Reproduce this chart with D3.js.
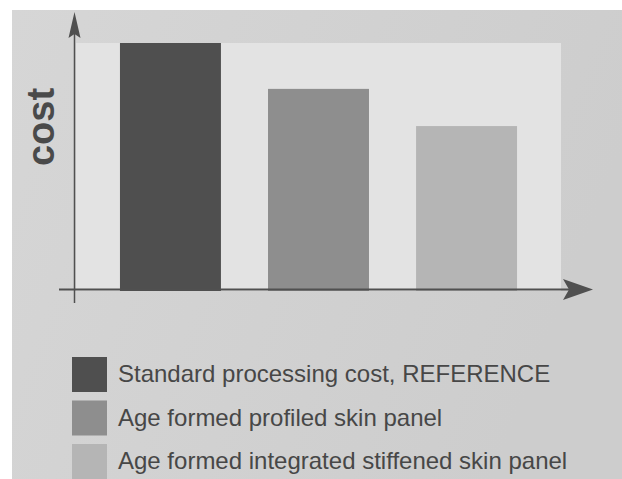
<!DOCTYPE html>
<html><head><meta charset="utf-8">
<script src="https://cdn.jsdelivr.net/npm/d3@7"></script>
<style>html,body{margin:0;padding:0;background:#fff;}svg{display:block;}</style>
</head><body>
<script>
const categories = ["Standard processing cost, REFERENCE", "Age formed profiled skin panel", "Age formed integrated stiffened skin panel"];
const values = [100, 81.5, 66.5];
const colors = ["#4f4f4f", "#8e8e8e", "#b5b5b5"];
const axisLabel = "cost";

const W = 622, H = 479;
const svg = d3.select("body").append("svg").attr("width", W).attr("height", H);
const defs = svg.append("defs");
const g = defs.append("linearGradient").attr("id","bg").attr("x1","0").attr("y1","0").attr("x2","1").attr("y2","0.3");
g.append("stop").attr("offset","0").attr("stop-color","#d6d6d6");
g.append("stop").attr("offset","1").attr("stop-color","#cdcdcd");

svg.append("rect").attr("x",12).attr("y",10).attr("width",W-12).attr("height",H-10).attr("fill","url(#bg)");

const x = d3.scaleBand().domain(categories).range([76, 561]).paddingInner(0.318).paddingOuter(0.297);
const y = d3.scaleLinear().domain([0, 100]).range([291, 43]);

// inner panel
svg.append("rect").attr("x",76).attr("y",y(100)).attr("width",561-76).attr("height",y(0)-y(100)).attr("fill","#e3e3e3");

svg.selectAll("rect.bar").data(categories).join("rect").attr("class","bar")
  .attr("x", d => x(d)).attr("width", x.bandwidth())
  .attr("y", (d,i) => y(values[i])).attr("height", (d,i) => y(0) - y(values[i]))
  .attr("fill", (d,i) => colors[i]);

const axc = "#505050";
// axes lines
svg.append("line").attr("x1",59).attr("x2",575).attr("y1",289.5).attr("y2",289.5).attr("stroke",axc).attr("stroke-width",2);
svg.append("line").attr("x1",74.5).attr("x2",74.5).attr("y1",303).attr("y2",30).attr("stroke",axc).attr("stroke-width",1.5);
// arrowheads
svg.append("path").attr("d","M593,289.5 L563,279 L569,289.5 L563,300 Z").attr("fill",axc);
svg.append("path").attr("d","M74.5,12 L68.5,38 L74.5,34 L80.5,38 Z").attr("fill",axc);

// y label
svg.append("text").attr("transform","translate(54,127) rotate(-90)")
  .attr("text-anchor","middle").attr("font-family","Liberation Sans, Arial, sans-serif")
  .attr("font-weight","bold").attr("font-size",38).attr("fill","#4a4a4a").text(axisLabel);

// legend
const leg = svg.append("g");
categories.forEach((c,i) => {
  const ty = 357 + i*43.5;
  leg.append("rect").attr("x",72).attr("y",ty).attr("width",35).attr("height",35).attr("fill",colors[i]);
  leg.append("text").attr("x",118).attr("y",ty+25).attr("font-family","Liberation Sans, Arial, sans-serif")
    .attr("font-size",24).attr("fill","#474747").text(c);
});
</script>
</body></html>
